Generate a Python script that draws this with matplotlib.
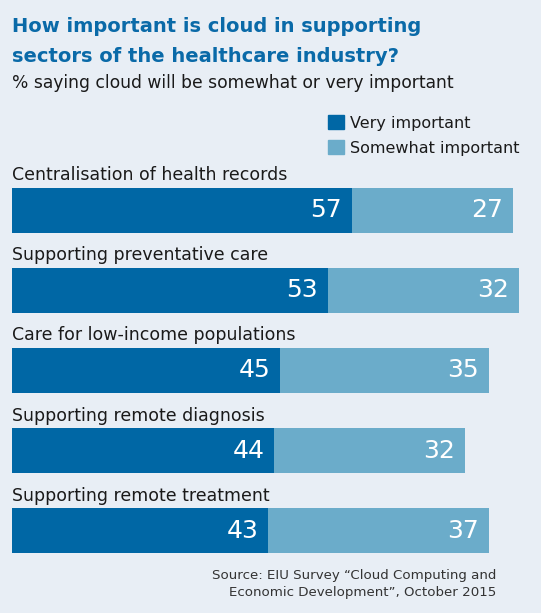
import matplotlib
matplotlib.use("Agg")
import matplotlib.pyplot as plt
from matplotlib.patches import Patch

categories = [
    "Centralisation of health records",
    "Supporting preventative care",
    "Care for low-income populations",
    "Supporting remote diagnosis",
    "Supporting remote treatment",
]
very = [57, 53, 45, 44, 43]
somewhat = [27, 32, 35, 32, 37]

BG = "#E8EEF5"
DARK = "#0067A5"
LIGHT = "#6BACCA"
TITLE = "#0A6AA8"

plt.rcParams["font.family"] = ["DejaVu Sans"]

W, H = 541, 613
fig = plt.figure(figsize=(W / 100, H / 100), dpi=100, facecolor=BG)

px_per_unit = 5.965
step = 80.2
top_px, bot_px, c0 = 150, 570, 210
ax = fig.add_axes([12 / W, 1 - bot_px / H, 90 * px_per_unit / W, (bot_px - top_px) / H])
ax.set_facecolor(BG)
ax.set_xlim(0, 90)
ax.set_ylim((bot_px - c0) / step, -(c0 - top_px) / step)
ax.axis("off")

ys = list(range(len(categories)))
h = 45 / step
ax.barh(ys, very, height=h, color=DARK)
ax.barh(ys, somewhat, left=very, height=h, color=LIGHT)

pad = 10 / px_per_unit
for y, cat, v, s in zip(ys, categories, very, somewhat):
    ax.text(0, y - 35 / step, cat, fontsize=12.5, color="#1a1a1a", ha="left", va="center")
    ax.text(v - pad, y, str(v), fontsize=18, color="white", ha="right", va="center")
    ax.text(v + s - pad, y, str(s), fontsize=18, color="white", ha="right", va="center")

fig.text(12 / W, 1 - 27 / H, "How important is cloud in supporting", fontsize=14,
         fontweight="bold", color=TITLE, ha="left", va="center")
fig.text(12 / W, 1 - 56 / H, "sectors of the healthcare industry?", fontsize=14,
         fontweight="bold", color=TITLE, ha="left", va="center")
fig.text(12 / W, 1 - 83 / H, "% saying cloud will be somewhat or very important", fontsize=12.3,
         color="#1a1a1a", ha="left", va="center")

handles = [Patch(color=DARK, label="Very important"), Patch(color=LIGHT, label="Somewhat important")]
fig.legend(handles=handles, loc="upper left", bbox_to_anchor=(320 / W, 1 - 107 / H),
           frameon=False, fontsize=11.5, handlelength=1.0, handleheight=1.0,
           handletextpad=0.35, labelspacing=0.6, borderpad=0, labelcolor="#1a1a1a")

fig.text(496 / W, 1 - 584 / H, "Source: EIU Survey \u201cCloud Computing and\nEconomic Development\u201d, October 2015",
         fontsize=9.6, color="#333333", ha="right", va="center", linespacing=1.4)

fig.savefig("out.png", dpi=100, facecolor=BG)
